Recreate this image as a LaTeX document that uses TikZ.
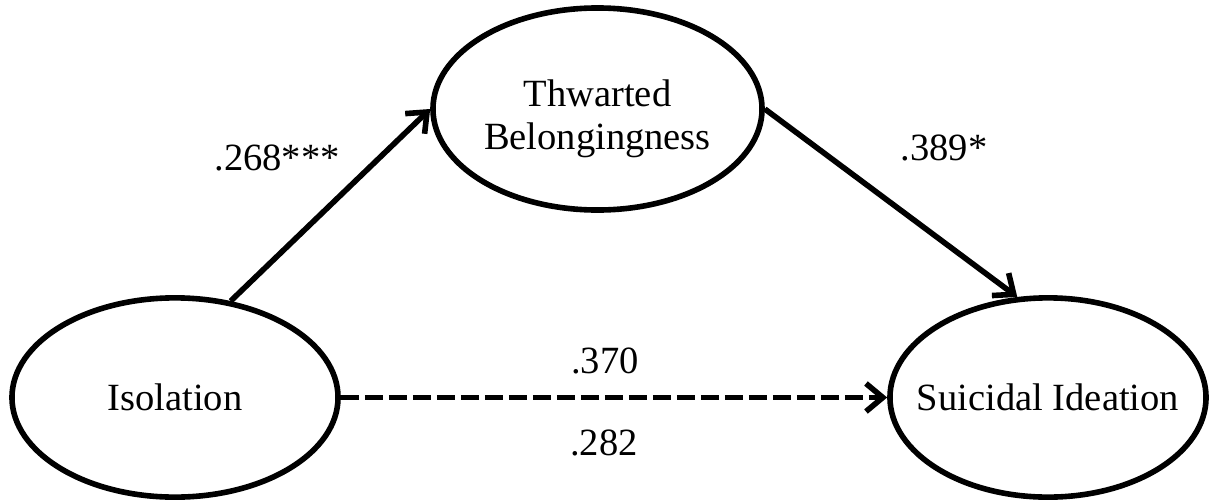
\documentclass[tikz,border=0pt]{standalone}
\usepackage{fontspec}
\setmainfont{Liberation Serif}
\usetikzlibrary{shapes.geometric}
\usetikzlibrary{arrows.meta}

\begin{document}
\begin{tikzpicture}[x=.025cm, y=-.025cm,
 latent/.style={draw, ellipse, line width=.14cm, inner xsep=-1cm, inner ysep=0, align=center, font=\fontsize{27.4}{29.9}\selectfont},
 effect/.style={line width=.14cm, -{Straight Barb[length=.42cm, width=.7cm]}},
 coef/.style={font=\fontsize{27.4}{29.9}\selectfont}]
\useasboundingbox (0,0) rectangle (1209,500);
\node[latent, minimum width=8.15cm, minimum height=4.98cm] (iso) at (175,397.5) {Isolation};
\node[latent, minimum width=8.225cm, minimum height=5.05cm, text height=2cm, text depth=0pt] (tb) at (597.5,109) {Thwarted\\Belongingness};
\node[latent, minimum width=7.9cm, minimum height=4.98cm] (si) at (1048,397.5) {Suicidal Ideation};
\draw[effect] (iso.60) -- (tb.west);
\draw[effect] (tb.east) -- (si.107);
\draw[effect, dash pattern=on .45cm off .15cm] (iso.east) -- (si.west);
\node[coef] (c1) at (277,158) {.268***};
\node[coef] (c2) at (944,148) {.389*};
\node[coef] (c3) at (605,361) {.370};
\node[coef] (c4) at (604,443) {.282};
\end{tikzpicture}
\end{document}
